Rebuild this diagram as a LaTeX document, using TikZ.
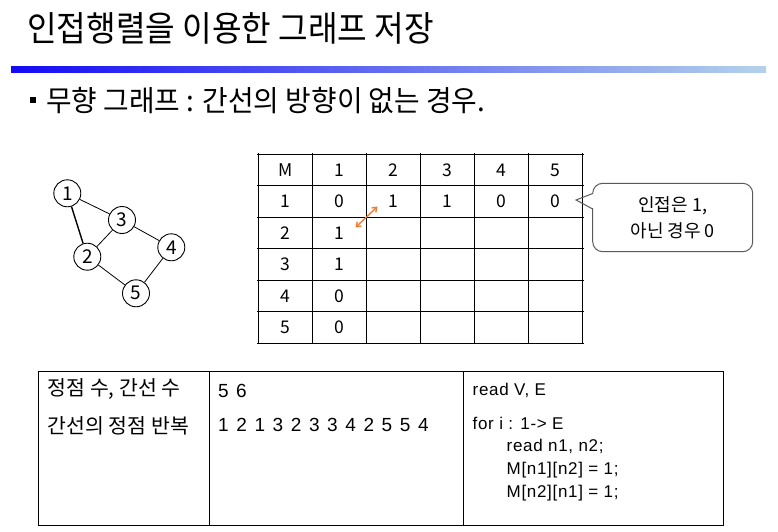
\documentclass[tikz,border=0pt]{standalone}
\usepackage{fontspec}
\setmainfont{Noto Sans CJK KR}
\newfontfamily\latinf{Liberation Sans}
\usetikzlibrary{arrows.meta}
\definecolor{arrowor}{RGB}{237,125,49}
\definecolor{callgray}{RGB}{90,90,90}
\definecolor{barA}{RGB}{20,10,245}
\definecolor{barB}{RGB}{140,135,248}
\definecolor{barC}{RGB}{180,210,235}
\tikzset{
  titletext/.style={anchor=west, inner sep=0, font=\fontsize{35}{38}\selectfont},
  bullettext/.style={anchor=west, inner sep=0, font=\fontsize{29}{32}\selectfont},
  cell/.style={inner sep=0, font=\fontsize{17.5}{20}\selectfont},
  vtx/.style={circle, draw, line width=0.9pt, minimum size=27pt, inner sep=0, font=\fontsize{19}{20}\selectfont},
  edge/.style={line width=0.8pt},
  gridline/.style={line width=1pt},
  calloutbox/.style={draw=callgray, line width=1pt, rounded corners=10pt, minimum width=160pt, minimum height=68.4pt, inner sep=0, align=center, font=\fontsize{18}{26}\selectfont},
  kortext/.style={anchor=west, inner sep=0, font=\fontsize{20.5}{24}\selectfont},
  numtext/.style={anchor=base west, inner sep=0, font=\latinf\fontsize{19}{22}\selectfont},
  codetext/.style={anchor=base west, inner sep=0, font=\latinf\addfontfeature{LetterSpace=4}\fontsize{17}{20}\selectfont},
}
\begin{document}
\begin{tikzpicture}[x=1pt,y=-1pt]
\useasboundingbox (0,0) rectangle (778,532);
% title
\node[titletext] (title) at (27,28) {\scalebox{0.92}[1]{인접행렬을 이용한 그래프 저장}};
% gradient bar
\shade[left color=barA, middle color=barB, right color=barC] (11,67) rectangle (766,73);
% bullet
\fill (29.5,97) rectangle (36,103.5);
\node[bullettext] (bul) at (46,101) {\scalebox{0.96}[1]{무향 그래프 : 간선의 방향이 없는 경우.}};
% graph
\node[vtx] (v1) at (67.3,193.3) {1};
\node[vtx] (v3) at (122,220) {3};
\node[vtx] (v2) at (87.3,256.7) {2};
\node[vtx] (v4) at (171.3,247.3) {4};
\node[vtx] (v5) at (136,293.3) {5};
\draw[edge] (v1) -- (v3);
\draw[line width=1.4pt] (v1) -- (v2);
\draw[edge] (v2) -- (v3);
\draw[edge] (v3) -- (v4);
\draw[edge] (v2) -- (v5);
\draw[edge] (v4) -- (v5);
% matrix grid
\foreach \x in {258.3,312.3,366.3,420.3,474.3,528.3,582.3}
  \draw[gridline] (\x,153) -- (\x,344);
\foreach \y in {154,185.5,217,248.5,280,311.5,343}
  \draw[gridline] (257,\y) -- (583.5,\y);
% header
\node[cell] (h0) at (285.3,170) {M};
\node[cell] (h1) at (339.3,170) {1};
\node[cell] (h2) at (393.3,170) {2};
\node[cell] (h3) at (447.3,170) {3};
\node[cell] (h4) at (501.3,170) {4};
\node[cell] (h5) at (555.3,170) {5};
% row 1
\node[cell] (r1c0) at (285.3,201.5) {1};
\node[cell] (r1c1) at (339.3,201.5) {0};
\node[cell] (r1c2) at (393.3,201.5) {1};
\node[cell] (r1c3) at (447.3,201.5) {1};
\node[cell] (r1c4) at (501.3,201.5) {0};
\node[cell] (r1c5) at (555.3,201.5) {0};
% column
\node[cell] (r2c0) at (285.3,233) {2};
\node[cell] (r2c1) at (339.3,233) {1};
\node[cell] (r3c0) at (285.3,264.5) {3};
\node[cell] (r3c1) at (339.3,264.5) {1};
\node[cell] (r4c0) at (285.3,296) {4};
\node[cell] (r4c1) at (339.3,296) {0};
\node[cell] (r5c0) at (285.3,327.3) {5};
\node[cell] (r5c1) at (339.3,327.3) {0};
% orange arrow
\coordinate (oa) at (355.5,227.5);
\coordinate (ob) at (377.5,206.5);
\draw[arrowor, line width=1.4pt, {Straight Barb[length=4pt,width=6pt]}-{Straight Barb[length=4pt,width=6pt]}] (oa) -- (ob);
% callout
\node[calloutbox] (cb) at (672.7,217.5) {인접은 1,\\아닌 경우 0};
\coordinate (tip) at (576,200);
\fill[white] (591.9,194) rectangle (593.5,208.4);
\draw[callgray, line width=1pt, line join=miter] (592.7,193.5) -- (tip) -- (592.7,209);
% bottom table
\draw[gridline] (38.3,371.7) rectangle (723.3,525.7);
\draw[gridline] (209.3,371.7) -- (209.3,525.7);
\draw[gridline] (463.3,371.7) -- (463.3,525.7);
\node[kortext] (k1) at (47.5,388.5) {정점 수, 간선 수};
\node[kortext] (k2) at (47.5,425.5) {간선의 정점 반복};
\node[numtext] (n1) at (218,397) {5\hspace{7.4pt}6};
\node[numtext] (n2) at (218,431) {\spaceskip=7.6pt plus 0pt minus 0pt 1 2 1 3 2 3 3 4 2 5 5 4};
\node[codetext] (c1) at (472.5,395.7) {read V, E};
\node[codetext] (c2) at (472.5,429) {for i : 1-> E};
\node[codetext] (c3) at (506.5,451.5) {read n1, n2;};
\node[codetext] (c4) at (506.5,474.3) {M[n1][n2] = 1;};
\node[codetext] (c5) at (506.5,497) {M[n2][n1] = 1;};
\end{tikzpicture}
\end{document}
